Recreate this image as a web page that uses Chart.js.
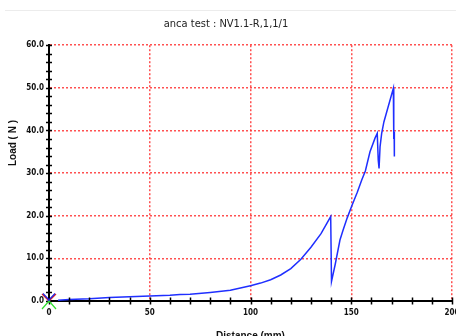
<!DOCTYPE html>
<html>
<head>
<meta charset="utf-8">
<script src="https://cdn.jsdelivr.net/npm/chart.js@4.4.1/dist/chart.umd.min.js"></script>
<style>
html,body{margin:0;padding:0;background:#fff;overflow:hidden;width:456px;height:336px;}
#wrap{position:absolute;left:0;top:0;width:470px;height:345px;}
</style>
</head>
<body>
<div id="wrap"><canvas id="c" width="470" height="345"></canvas></div>
<script>
const chartTitle = "anca test : NV1.1-R,1,1/1";
const xTitle = "Distance (mm)";
const yTitle = "Load ( N )";
const distance = [4.5, 10, 20, 30, 40, 50, 60, 65, 70, 80, 90, 100, 105, 110, 115, 120, 125, 130, 135, 139.8,
  140.2, 142, 144.4, 146, 148, 150.2, 153, 155.2, 157, 159.3, 161.8, 162.9, 163.4, 163.8, 164.3, 165.1, 166.2,
  170.9, 171.1, 171.3, 171.4];
const load = [0.2, 0.35, 0.5, 0.8, 1.0, 1.2, 1.35, 1.5, 1.6, 2.0, 2.5, 3.6, 4.2, 5.0, 6.1, 7.6, 9.8, 12.6, 15.8, 19.8,
  4.6, 8.5, 14.3, 16.7, 19.5, 22.2, 25.5, 28.4, 30.5, 35.0, 38.2, 39.3, 33.0, 31.1, 36.2, 39.3, 42.0,
  49.9, 38.0, 39.7, 33.9];
const xMajor = 50, xMinor = 10, xMax = 200;
const yMajor = 10, yMinor = 2, yMax = 60;

const points = distance.map((d, i) => ({x: d, y: load[i]}));
const labelFont = {family: "'Liberation Sans Narrow','DejaVu Sans Condensed','Arial Narrow',sans-serif", size: 8, weight: 'bold'};
const gridRed = 'rgba(255,50,50,0.85)';

const deco = {
  id: 'deco',
  beforeDraw(chart) {
    const ctx = chart.ctx;
    ctx.save();
    ctx.strokeStyle = '#ececec';
    ctx.lineWidth = 1;
    ctx.beginPath(); ctx.moveTo(5, 10.5); ctx.lineTo(chart.width, 10.5); ctx.stroke();
    ctx.restore();
  },
  afterDraw(chart) {
    const ctx = chart.ctx;
    const xs = chart.scales.x, ys = chart.scales.y;
    const x0 = xs.getPixelForValue(0), y0 = ys.getPixelForValue(0);
    ctx.save();
    ctx.strokeStyle = '#000';
    ctx.lineWidth = 1.5;
    ctx.beginPath();
    for (let v = 0; v <= xMax; v += xMinor) {
      const px = Math.round(xs.getPixelForValue(v)) + 0.5;
      ctx.moveTo(px, y0 - 3.5); ctx.lineTo(px, y0 + 3.5);
    }
    for (let v = 0; v <= yMax; v += yMinor) {
      const py = Math.round(ys.getPixelForValue(v)) + 0.5;
      ctx.moveTo(x0 - 3, py); ctx.lineTo(x0 + 3, py);
    }
    ctx.stroke();
    // origin marker
    ctx.lineWidth = 1.2;
    ctx.strokeStyle = '#e02020';
    ctx.beginPath(); ctx.moveTo(x0, y0); ctx.lineTo(x0 - 7, y0 - 7); ctx.moveTo(x0, y0); ctx.lineTo(x0 + 7, y0 - 7); ctx.stroke();
    ctx.strokeStyle = '#2020e0';
    ctx.beginPath(); ctx.moveTo(x0 + 1, y0); ctx.lineTo(x0 - 6, y0 - 7.5); ctx.moveTo(x0 - 1, y0); ctx.lineTo(x0 + 6, y0 - 7.5); ctx.stroke();
    ctx.strokeStyle = '#30e030';
    ctx.beginPath(); ctx.moveTo(x0, y0); ctx.lineTo(x0 - 7, y0 + 8); ctx.moveTo(x0, y0); ctx.lineTo(x0 + 7, y0 + 8); ctx.stroke();
    // y axis title
    ctx.fillStyle = '#111';
    ctx.font = "bold 10px 'Liberation Sans','DejaVu Sans',sans-serif";
    ctx.textAlign = 'center';
    ctx.textBaseline = 'middle';
    ctx.translate(13, 143);
    ctx.rotate(-Math.PI / 2);
    ctx.fillText(yTitle, 0, 0);
    ctx.restore();
  }
};

new Chart(document.getElementById('c'), {
  type: 'scatter',
  data: {
    datasets: [{
      data: points,
      showLine: true,
      borderColor: '#1f2fff',
      borderWidth: 1.5,
      pointRadius: 0,
      tension: 0
    }]
  },
  options: {
    responsive: false,
    animation: false,
    events: [],
    layout: {padding: {left: 0, right: 18, top: 0, bottom: 0}},
    plugins: {
      legend: {display: false},
      tooltip: {enabled: false},
      title: {
        display: true,
        text: chartTitle,
        color: '#222',
        align: 'center',
        font: {family: "'Liberation Sans Narrow','DejaVu Sans Condensed',sans-serif", size: 11, weight: 'normal', lineHeight: 1.2},
        padding: {top: 18, bottom: 14}
      }
    },
    scales: {
      x: {
        type: 'linear',
        min: 0, max: xMax,
        afterFit(s) { s.height = 44; },
        ticks: {
          stepSize: xMinor,
          autoSkip: false,
          maxRotation: 0,
          padding: 7,
          color: '#111',
          font: labelFont,
          callback: v => (v % xMajor === 0 ? String(v) : '')
        },
        grid: {
          drawTicks: false,
          lineWidth: 1.5,
          color: c => (c.tick && c.tick.value % xMajor === 0 ? gridRed : 'rgba(0,0,0,0)')
        },
        border: {display: true, color: '#000', width: 2, dash: [2, 2]},
        title: {display: true, text: xTitle, color: '#111', padding: {top: 0, bottom: 3},
          font: {family: "'Liberation Sans','DejaVu Sans',sans-serif", size: 10, weight: 'bold'}}
      },
      y: {
        type: 'linear',
        min: 0, max: yMax,
        afterFit(s) { s.width = 49; },
        ticks: {
          stepSize: yMinor,
          autoSkip: false,
          padding: 5,
          color: '#111',
          font: labelFont,
          callback: v => (v % yMajor === 0 ? v.toFixed(1) : '')
        },
        grid: {
          drawTicks: false,
          lineWidth: 1.5,
          color: c => (c.tick && c.tick.value % yMajor === 0 ? gridRed : 'rgba(0,0,0,0)')
        },
        border: {display: true, color: '#000', width: 2, dash: [2, 2]}
      }
    }
  },
  plugins: [deco]
});
</script>
</body>
</html>
